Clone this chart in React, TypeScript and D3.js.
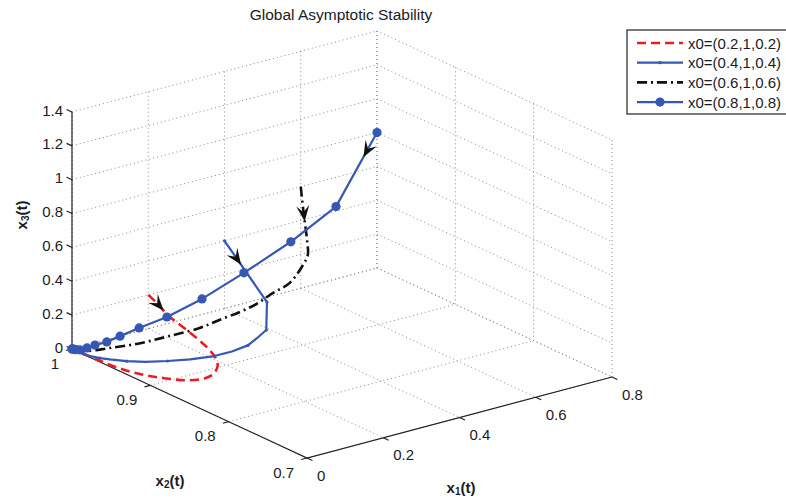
import React from "react";
import * as d3 from "d3";

const title = "Global Asymptotic Stability";
const x1Ticks = [0, 0.2, 0.4, 0.6, 0.8];
const x2Ticks = [1, 0.9, 0.8, 0.7];
const x3Ticks = [0, 0.2, 0.4, 0.6, 0.8, 1, 1.2, 1.4];
const x1TickLabels = ["0", "0.2", "0.4", "0.6", "0.8"];
const x2TickLabels = ["1", "0.9", "0.8", "0.7"];
const x3TickLabels = ["0", "0.2", "0.4", "0.6", "0.8", "1", "1.2", "1.4"];

const legendLabels = ["x0=(0.2,1,0.2)", "x0=(0.4,1,0.4)", "x0=(0.6,1,0.6)", "x0=(0.8,1,0.8)"];

// trajectories [x1, x2, x3]
const traj1: number[][] = [
  [0.2, 1, 0.2], [0.202, 0.989, 0.17], [0.197, 0.974, 0.14], [0.197, 0.954, 0.11],
  [0.194, 0.934, 0.085], [0.19, 0.919, 0.065], [0.176, 0.902, 0.05], [0.158, 0.891, 0.038],
  [0.128, 0.882, 0.028], [0.103, 0.881, 0.02], [0.07, 0.888, 0.014], [0.043, 0.903, 0.01],
  [0.02, 0.922, 0.006], [0.007, 0.946, 0.003], [0.003, 0.97, 0.001], [0.001, 0.99, 0], [0, 1, 0],
];
const traj2: number[][] = [
  [0.4, 1, 0.4], [0.421, 0.956, 0.12], [0.374, 0.934, 0.03], [0.335, 0.927, 0.02],
  [0.299, 0.921, 0.012], [0.253, 0.919, 0.008], [0.209, 0.92, 0.005], [0.158, 0.926, 0.003],
  [0.115, 0.934, 0.002], [0.075, 0.943, 0.0015], [0.047, 0.953, 0.001], [0.025, 0.964, 0.0005],
  [0.014, 0.971, 0], [0.0045, 0.979, 0], [0.002, 0.986, 0], [0, 1, 0],
];
const traj3: number[][] = [
  [0.6, 1, 0.6], [0.607, 1, 0.45], [0.602, 0.993, 0.3], [0.598, 0.99, 0.22],
  [0.583, 0.988, 0.18], [0.528, 0.979, 0.12], [0.482, 0.978, 0.09], [0.431, 0.974, 0.065],
  [0.383, 0.972, 0.05], [0.329, 0.972, 0.035], [0.273, 0.97, 0.025], [0.201, 0.973, 0.015],
  [0.13, 0.976, 0.008], [0.064, 0.983, 0.004], [0.014, 0.99, 0.001], [0, 1, 0],
];
const traj4: number[][] = [
  [0.8, 1, 0.8], [0.6925, 1, 0.427], [0.574, 1, 0.29], [0.451, 1, 0.18],
  [0.341, 1, 0.092], [0.249, 1, 0.04], [0.176, 1, 0.019], [0.124, 0.999, 0.004],
  [0.083, 0.996, 0.001], [0.052, 0.996, 0.0005], [0.029, 0.995, 0], [0.01, 0.995, 0],
  [0.004, 0.997, 0], [0.0015, 0.999, 0], [0.0005, 1, 0], [0, 1, 0],
];

// arrowheads: [series index, fractional point index]
const arrowSeries = [0, 1, 2, 3];
const arrowAt = [1.6, 0.39, 1.36, 0.33];

const RED = "#ec1c24";
const BLUE = "#3657b3";
const BLACK = "#111111";
const TXT = "#1b1b24";
const FONT = "'Liberation Sans', Arial, Helvetica, sans-serif";

// projection built from d3 scales
const uScale = d3.scaleLinear().domain([0, 0.8]).range([0, 1]);
const vScale = d3.scaleLinear().domain([1, 0.7]).range([0, 1]);
const zScale = d3.scaleLinear().domain([0, 1.4]).range([0, 237]);
const O = [72, 349];
const U = [305, -81];
const V = [235, 109];
function proj(p: number[]): [number, number] {
  const u = uScale(p[0]);
  const v = vScale(p[1]);
  return [O[0] + U[0] * u + V[0] * v, O[1] + U[1] * u + V[1] * v - zScale(p[2])];
}

const series = [
  { data: traj1, color: RED, width: 2.6, dash: "9,5", curve: d3.curveCatmullRom, dots: 0, dotIdx: [] as number[] },
  { data: traj2, color: BLUE, width: 2.2, dash: "", curve: d3.curveLinear, dots: 1.6, dotIdx: [0, 1, 2, 4, 6, 8, 10, 12, 14, 15] },
  { data: traj3, color: BLACK, width: 2.6, dash: "10,4,2,4", curve: d3.curveCatmullRom, dots: 0, dotIdx: [] as number[] },
  { data: traj4, color: BLUE, width: 2.2, dash: "", curve: d3.curveLinear, dots: 4.6, dotIdx: d3.range(16) },
];

function seg(a: number[], b: number[]) {
  const p = proj(a), q = proj(b);
  return `M${p[0]},${p[1]}L${q[0]},${q[1]}`;
}

export default function App() {
  const gridPaths: string[] = [];
  for (const z of x3Ticks) {
    gridPaths.push(seg([0, 1, z], [0.8, 1, z]));
    gridPaths.push(seg([0.8, 1, z], [0.8, 0.7, z]));
  }
  for (const x1 of x1Ticks) {
    gridPaths.push(seg([x1, 1, 0], [x1, 1, 1.4]));
    gridPaths.push(seg([x1, 1, 0], [x1, 0.7, 0]));
  }
  for (const x2 of x2Ticks) {
    gridPaths.push(seg([0.8, x2, 0], [0.8, x2, 1.4]));
    gridPaths.push(seg([0, x2, 0], [0.8, x2, 0]));
  }

  const line = (curve: any) =>
    d3.line<number[]>().x((d) => proj(d)[0]).y((d) => proj(d)[1]).curve(curve);

  const tickLen = 6;
  const norm = (v: number[]) => {
    const l = Math.hypot(v[0], v[1]);
    return [v[0] / l, v[1] / l];
  };
  const dx1neg = norm([-U[0], -U[1]]);
  const dx2neg = norm([V[0], V[1]]);
  const dx2pos = norm([-V[0], -V[1]]);

  const arrows = arrowSeries.map((si, k) => {
    const pts = series[si].data.map(proj);
    const t = arrowAt[k];
    const i = Math.min(Math.floor(t), pts.length - 2);
    const f = t - i;
    const a = pts[i], b = pts[i + 1];
    const tip = [a[0] + (b[0] - a[0]) * f, a[1] + (b[1] - a[1]) * f];
    const dir = norm([b[0] - a[0], b[1] - a[1]]);
    const L = 16, W = 6.5, N = 9.5;
    const px = -dir[1], py = dir[0];
    const back = [tip[0] - dir[0] * L, tip[1] - dir[1] * L];
    const notch = [tip[0] - dir[0] * N, tip[1] - dir[1] * N];
    return `M${tip[0]},${tip[1]}L${back[0] + px * W},${back[1] + py * W}L${notch[0]},${notch[1]}L${back[0] - px * W},${back[1] - py * W}Z`;
  });

  const A = proj([0, 1, 0]);
  const B = proj([0, 0.7, 0]);
  const C = proj([0.8, 0.7, 0]);
  const Atop = proj([0, 1, 1.4]);

  const legendX = 627, legendY = 30, rowH = 19.7;

  return (
    <svg
      width={786}
      height={501}
      style={{ position: "absolute", left: 0, top: 0, background: "#fff" }}
      fontFamily={FONT}
    >
      <rect x={0} y={0} width={786} height={501} fill="#fff" />
      <text x={341} y={14} textAnchor="middle" dominantBaseline="central" fontSize={15.5} fill={TXT}>
        {title}
      </text>
      <g stroke="#8a8a8a" strokeWidth={1} strokeDasharray="1,3" fill="none">
        {gridPaths.map((d, i) => (
          <path key={i} d={d} />
        ))}
      </g>
      <g stroke="#222" strokeWidth={1.2} fill="none">
        <path d={`M${A[0]},${A[1]}L${B[0]},${B[1]}L${C[0]},${C[1]}`} />
        <path d={`M${A[0]},${A[1]}L${Atop[0]},${Atop[1]}`} />
        {x1Ticks.map((t, i) => {
          const p = proj([t, 0.7, 0]);
          return <path key={"a" + i} d={`M${p[0]},${p[1]}l${dx2neg[0] * tickLen},${dx2neg[1] * tickLen}`} />;
        })}
        {x2Ticks.map((t, i) => {
          const p = proj([0, t, 0]);
          return <path key={"b" + i} d={`M${p[0]},${p[1]}l${dx1neg[0] * tickLen},${dx1neg[1] * tickLen}`} />;
        })}
        {x3Ticks.map((t, i) => {
          const p = proj([0, 1, t]);
          return <path key={"c" + i} d={`M${p[0]},${p[1]}l${dx2pos[0] * tickLen},${dx2pos[1] * tickLen}`} />;
        })}
      </g>
      <g fontSize={15} fill={TXT}>
        {x1Ticks.map((t, i) => {
          const p = proj([t, 0.7, 0]);
          return (
            <text key={"l1" + i} x={p[0] + 10} y={p[1] + 17} dominantBaseline="central">
              {x1TickLabels[i]}
            </text>
          );
        })}
        {x2Ticks.map((t, i) => {
          const p = proj([0, t, 0]);
          return (
            <text key={"l2" + i} x={p[0] - 13} y={p[1] + 14} textAnchor="end" dominantBaseline="central">
              {x2TickLabels[i]}
            </text>
          );
        })}
        {x3Ticks.map((t, i) => {
          const p = proj([0, 1, t]);
          return (
            <text key={"l3" + i} x={p[0] - 9} y={p[1] - 2} textAnchor="end" dominantBaseline="central">
              {x3TickLabels[i]}
            </text>
          );
        })}
      </g>
      <g fontSize={15} fontWeight="bold" fill={TXT}>
        <text x={461} y={487} textAnchor="middle" dominantBaseline="central">
          x<tspan fontSize={10} dy={4}>1</tspan><tspan dy={-4}>(t)</tspan>
        </text>
        <text x={170} y={480} textAnchor="middle" dominantBaseline="central">
          x<tspan fontSize={10} dy={4}>2</tspan><tspan dy={-4}>(t)</tspan>
        </text>
        <text transform="translate(21,215) rotate(-90)" textAnchor="middle" dominantBaseline="central">
          x<tspan fontSize={10} dy={4}>3</tspan><tspan dy={-4}>(t)</tspan>
        </text>
      </g>
      {series.map((s, i) => (
        <g key={"s" + i}>
          <path
            d={line(s.curve)(s.data) || ""}
            fill="none"
            stroke={s.color}
            strokeWidth={s.width}
            strokeDasharray={s.dash || undefined}
            strokeLinejoin="round"
          />
          {s.dots > 0 &&
            s.dotIdx.map((j) => {
              const p = proj(s.data[j]);
              return <circle key={j} cx={p[0]} cy={p[1]} r={s.dots} fill={s.color} />;
            })}
        </g>
      ))}
      <g fill={BLACK}>
        {arrows.map((d, i) => (
          <path key={"ar" + i} d={d} />
        ))}
      </g>
      <g>
        <rect x={legendX} y={legendY} width={170} height={84} fill="#fff" stroke="#222" strokeWidth={1.2} />
        {series.map((s, i) => {
          const y = legendY + 13 + i * rowH;
          return (
            <g key={"lg" + i}>
              <line
                x1={legendX + 10}
                x2={legendX + 56}
                y1={y}
                y2={y}
                stroke={s.color}
                strokeWidth={s.width}
                strokeDasharray={s.dash || undefined}
              />
              {s.dots > 0 && <circle cx={legendX + 33} cy={y} r={s.dots} fill={s.color} />}
              <text x={legendX + 61} y={y} dominantBaseline="central" fontSize={15} fill={TXT}>
                {legendLabels[i]}
              </text>
            </g>
          );
        })}
      </g>
    </svg>
  );
}
